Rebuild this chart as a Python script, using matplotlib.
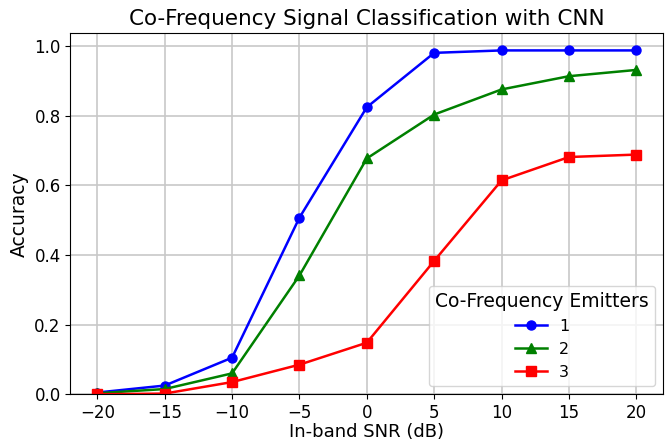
import numpy as np
import matplotlib
matplotlib.use("Agg")
import matplotlib.pyplot as plt

# In-band SNR values (dB)
snr = [-20, -15, -10, -5, 0, 5, 10, 15, 20]

# Accuracy per number of co-frequency emitters
acc_1 = [0.005, 0.025, 0.105, 0.507, 0.824, 0.980, 0.987, 0.987, 0.987]
acc_2 = [0.003, 0.015, 0.060, 0.341, 0.677, 0.803, 0.875, 0.913, 0.931]
acc_3 = [0.000, 0.002, 0.035, 0.085, 0.148, 0.383, 0.614, 0.681, 0.688]

fig, ax = plt.subplots(figsize=(6.7, 4.43), dpi=100)

ax.plot(snr, acc_1, marker='o', color='blue', lw=1.8, ms=6.5, label='1')
ax.plot(snr, acc_2, marker='^', color='green', lw=1.8, ms=6.5, label='2')
ax.plot(snr, acc_3, marker='s', color='red', lw=1.8, ms=6.5, label='3')

ax.set_xticks(np.arange(-20, 21, 5))
ax.set_ylim(bottom=0)
ax.tick_params(labelsize=12)
ax.set_xlabel('In-band SNR (dB)', fontsize=13, labelpad=1)
ax.set_ylabel('Accuracy', fontsize=13.5)
ax.set_title('Co-Frequency Signal Classification with CNN', fontsize=15.5)
ax.grid(color='#c8c8c8', linewidth=1.2)
ax.legend(title='Co-Frequency Emitters', loc='lower right', fontsize=11.5,
          title_fontsize=13.5, labelspacing=0.5)

fig.subplots_adjust(left=0.105, right=0.99, top=0.925, bottom=0.11)
fig.savefig('out.png')
